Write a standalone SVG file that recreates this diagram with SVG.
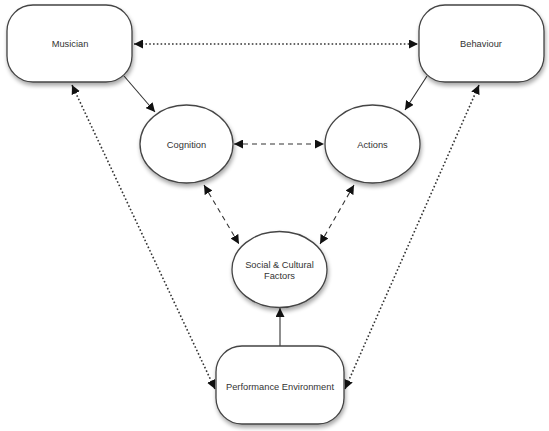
<svg xmlns="http://www.w3.org/2000/svg" width="549" height="431" viewBox="0 0 549 431">
<style>
.node{fill:#fff;stroke:#444;stroke-width:1.3;filter:url(#sh)}
.lbl{font-family:"Liberation Sans",Arial,sans-serif;font-size:9.3px;fill:#333;text-anchor:middle}
.c{fill:none;stroke:#333;stroke-width:1.1}
.dot{stroke-dasharray:1.6 2.2;stroke-width:1.6}
.dash{stroke-dasharray:5 4}
</style>
<defs>
<filter id="sh" x="-20%" y="-20%" width="140%" height="150%">
<feGaussianBlur in="SourceAlpha" stdDeviation="2"/>
<feOffset dx="1" dy="3" result="b"/>
<feComponentTransfer><feFuncA type="linear" slope="0.35"/></feComponentTransfer>
<feMerge><feMergeNode/><feMergeNode in="SourceGraphic"/></feMerge>
</filter>
<marker id="ah" viewBox="0 0 10 10" refX="10" refY="5" markerWidth="9" markerHeight="9" markerUnits="userSpaceOnUse" orient="auto-start-reverse">
<path d="M0,0L10,5L0,10z" fill="#111"/>
</marker>
</defs>
<g id="connectors">
<line class="c dot" x1="134" y1="44" x2="418" y2="44" marker-start="url(#ah)" marker-end="url(#ah)"/>
<line class="c" x1="124" y1="76" x2="155" y2="112" marker-end="url(#ah)"/>
<line class="c" x1="427" y1="76" x2="405" y2="110" marker-end="url(#ah)"/>
<line class="c dash" x1="234" y1="144" x2="324" y2="144" marker-start="url(#ah)" marker-end="url(#ah)"/>
<line class="c dash" x1="204" y1="185" x2="239" y2="244" marker-start="url(#ah)" marker-end="url(#ah)"/>
<line class="c dash" x1="354" y1="185" x2="320" y2="244" marker-start="url(#ah)" marker-end="url(#ah)"/>
<line class="c" x1="280" y1="346" x2="280" y2="308" marker-end="url(#ah)"/>
<line class="c dot" x1="72" y1="85" x2="215" y2="389" marker-start="url(#ah)" marker-end="url(#ah)"/>
<line class="c dot" x1="479" y1="85" x2="345" y2="389" marker-start="url(#ah)" marker-end="url(#ah)"/>
</g>
<g id="musician">
<rect class="node" x="7" y="5" width="125" height="77" rx="26" ry="26"/>
<text class="lbl" x="70" y="47">Musician</text>
</g>
<g id="behaviour">
<rect class="node" x="419" y="5" width="125" height="77" rx="26" ry="26"/>
<text class="lbl" x="481" y="47">Behaviour</text>
</g>
<g id="cognition">
<ellipse class="node" cx="186.5" cy="144" rx="46.5" ry="39"/>
<text class="lbl" x="186.5" y="148">Cognition</text>
</g>
<g id="actions">
<ellipse class="node" cx="372.5" cy="144" rx="47.5" ry="39"/>
<text class="lbl" x="372.5" y="148">Actions</text>
</g>
<g id="social">
<ellipse class="node" cx="279.5" cy="269.5" rx="47.5" ry="38"/>
<text class="lbl" x="279.5" y="268">Social &amp; Cultural</text>
<text class="lbl" x="279.5" y="279">Factors</text>
</g>
<g id="performance">
<rect class="node" x="216" y="346" width="128" height="78" rx="26" ry="26"/>
<text class="lbl" x="280" y="390">Performance Environment</text>
</g>
</svg>
